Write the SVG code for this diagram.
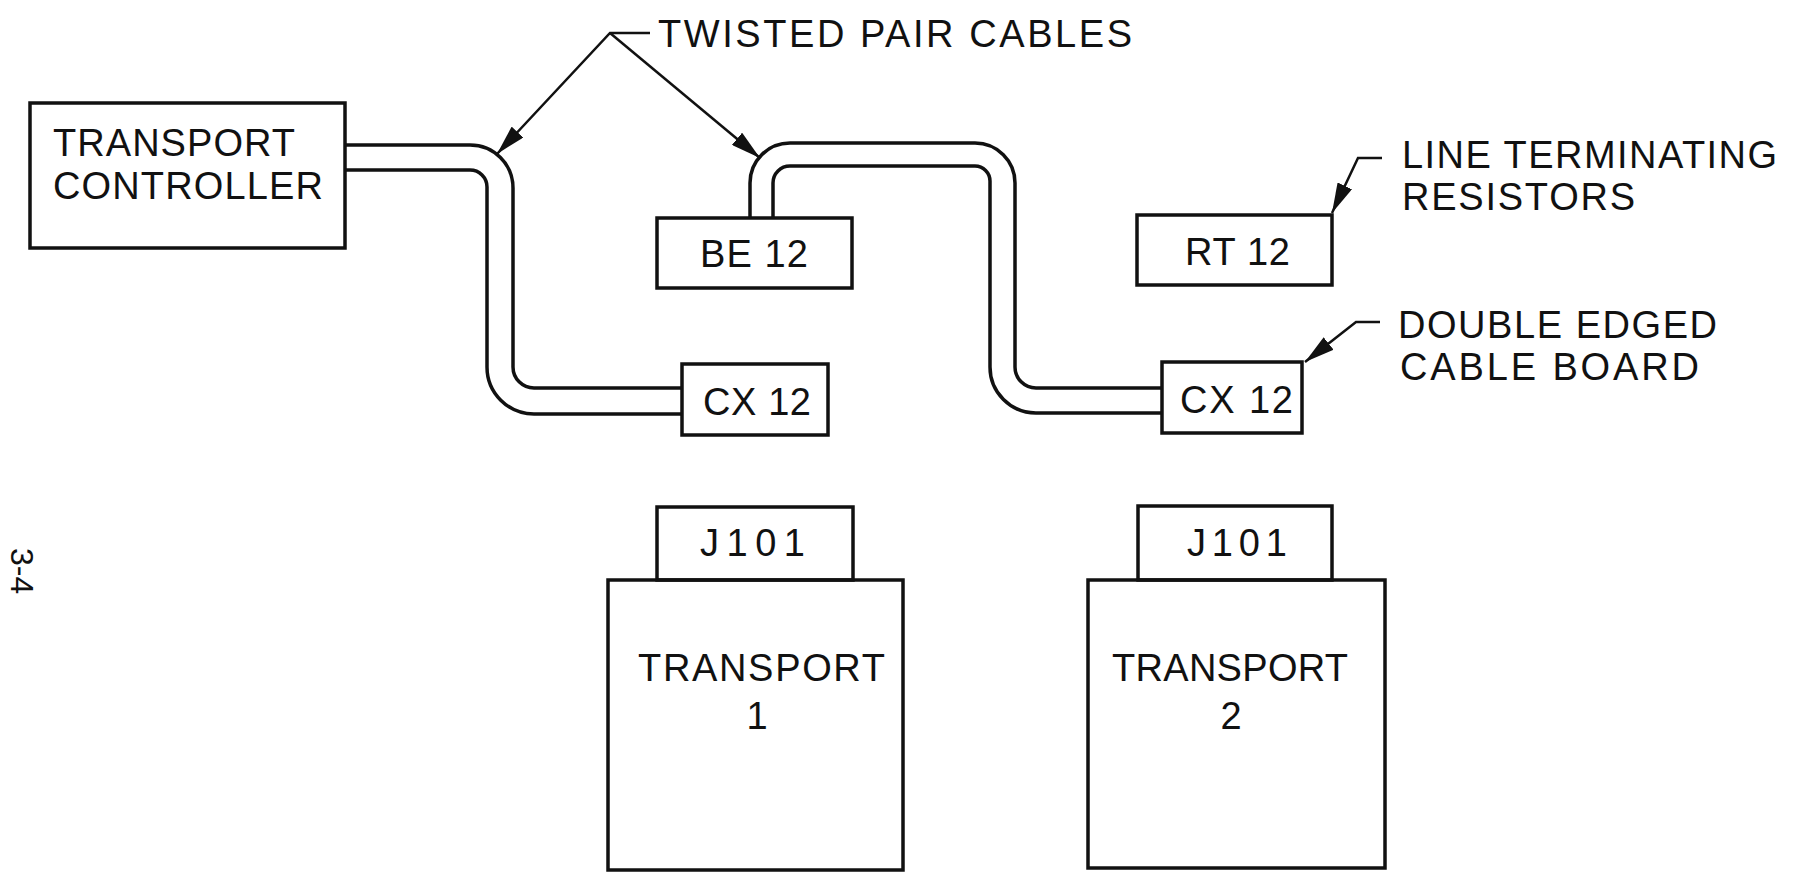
<svg xmlns="http://www.w3.org/2000/svg" width="1794" height="882" viewBox="0 0 1794 882">
<style>
.box{fill:none;stroke:#111;stroke-width:3.5}
.cab{fill:none;stroke:#111;stroke-width:3.5;stroke-linejoin:round}
.lead{fill:none;stroke:#111;stroke-width:2.5}
.t{font-family:"Liberation Sans","DejaVu Sans",sans-serif;font-size:38px;fill:#111}
.s{font-family:"Liberation Sans","DejaVu Sans",sans-serif;font-size:32px;fill:#111}
</style>
<defs>
<marker id="ah" viewBox="0 0 30 16" refX="30" refY="8" markerWidth="30" markerHeight="16" markerUnits="userSpaceOnUse" orient="auto">
<path d="M0,0 L30,8 L0,16 z" fill="#111"/>
</marker>
</defs>
<rect width="1794" height="882" fill="#fff"/>

<g id="controller">
<rect class="box" x="30" y="103" width="315" height="145"/>
<text class="t" x="53" y="156" textLength="242" lengthAdjust="spacing">TRANSPORT</text>
<text class="t" x="53" y="199" textLength="270" lengthAdjust="spacing">CONTROLLER</text>
</g>

<g id="be12">
<rect class="box" x="657" y="218" width="195" height="70"/>
<text class="t" x="700" y="267" textLength="108" lengthAdjust="spacing">BE 12</text>
</g>

<g id="rt12">
<rect class="box" x="1137" y="215" width="195" height="70"/>
<text class="t" x="1185" y="265" textLength="105" lengthAdjust="spacing">RT 12</text>
</g>

<g id="cx12a">
<rect class="box" x="682" y="364" width="146" height="71"/>
<text class="t" x="703" y="415" textLength="108" lengthAdjust="spacing">CX 12</text>
</g>

<g id="cx12b">
<rect class="box" x="1162" y="362" width="140" height="71"/>
<text class="t" x="1180" y="413" textLength="113" lengthAdjust="spacing">CX 12</text>
</g>

<g id="transport1">
<rect class="box" x="657" y="507" width="196" height="73"/>
<text class="t" x="700" y="556" textLength="105" lengthAdjust="spacing">J101</text>
<rect class="box" x="608" y="580" width="295" height="290"/>
<text class="t" x="638" y="681" textLength="247" lengthAdjust="spacing">TRANSPORT</text>
<text class="t" x="757" y="729" text-anchor="middle">1</text>
</g>

<g id="transport2">
<rect class="box" x="1138" y="506" width="194" height="74"/>
<text class="t" x="1187" y="556" textLength="100" lengthAdjust="spacing">J101</text>
<rect class="box" x="1088" y="580" width="297" height="288"/>
<text class="t" x="1112" y="681" textLength="236" lengthAdjust="spacing">TRANSPORT</text>
<text class="t" x="1231" y="729" text-anchor="middle">2</text>
</g>

<g id="labels">
<text class="t" x="658" y="47" textLength="474" lengthAdjust="spacing">TWISTED  PAIR CABLES</text>
<text class="t" x="1402" y="168" textLength="375" lengthAdjust="spacing">LINE TERMINATING</text>
<text class="t" x="1402" y="210" textLength="233" lengthAdjust="spacing">RESISTORS</text>
<text class="t" x="1398" y="338" textLength="319" lengthAdjust="spacing">DOUBLE EDGED</text>
<text class="t" x="1400" y="380" textLength="299" lengthAdjust="spacing">CABLE BOARD</text>
<text class="s" transform="translate(11,548) rotate(90)">3-4</text>
</g>

<g id="connectors">
<path class="cab" d="M345,145 H470 A43,43 0 0 1 513,188 V367 A21,21 0 0 0 534,388 H682"/>
<path class="cab" d="M345,170 H470 A17,17 0 0 1 487,187 V367 A47,47 0 0 0 534,414 H682"/>
<path class="cab" d="M750,218 V183 A40,40 0 0 1 790,143 H975 A40,40 0 0 1 1015,183 V367 A21,21 0 0 0 1036,388 H1162"/>
<path class="cab" d="M773,218 V183 A17,17 0 0 1 790,166 H975 A15,15 0 0 1 990,181 V367 A46,46 0 0 0 1036,413 H1162"/>
<path class="lead" d="M650,33 H610 L497,154" marker-end="url(#ah)"/>
<path class="lead" d="M610,33 L760,158" marker-end="url(#ah)"/>
<path class="lead" d="M1382,158 H1358 L1332,213" marker-end="url(#ah)"/>
<path class="lead" d="M1380,322 H1356 L1305,362" marker-end="url(#ah)"/>
</g>
</svg>
